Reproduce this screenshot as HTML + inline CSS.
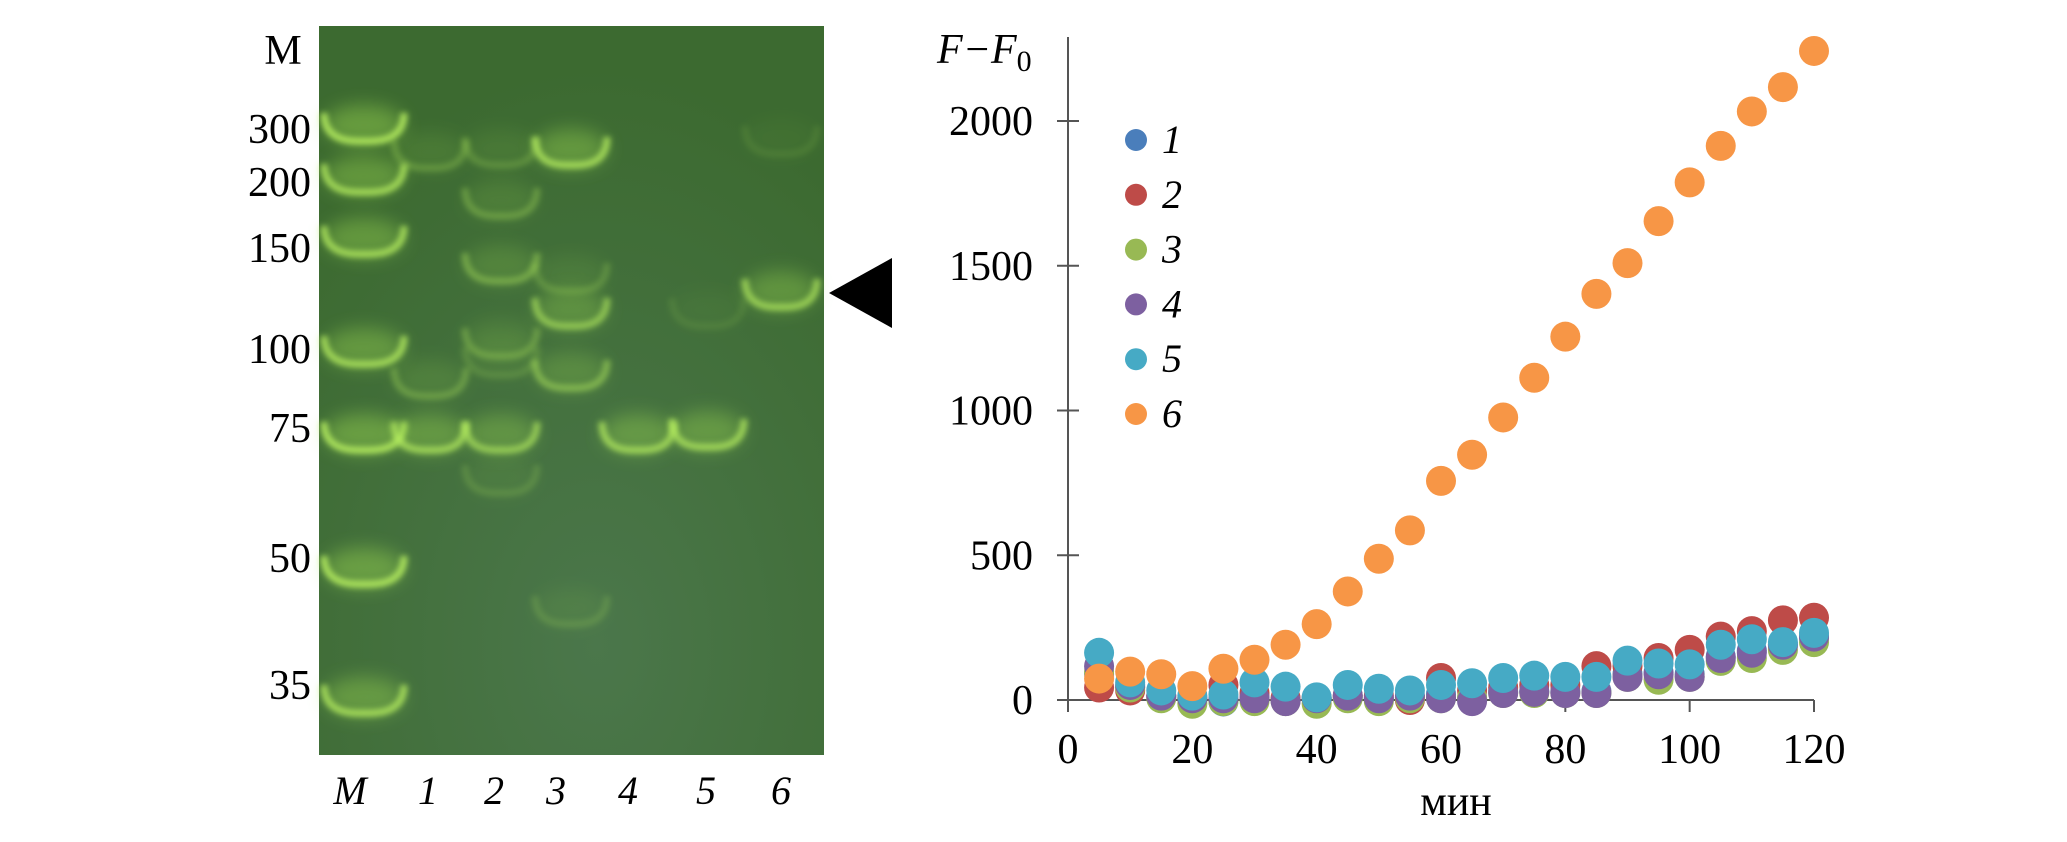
<!DOCTYPE html>
<html><head><meta charset="utf-8"><style>
html,body{margin:0;padding:0;background:#fff;}
svg{display:block;font-family:"Liberation Serif",serif;}
</style></head><body>
<svg id="fig" width="2067" height="842" viewBox="0 0 2067 842" xmlns="http://www.w3.org/2000/svg">
<defs>
<filter id="blur3" x="-50%" y="-50%" width="200%" height="200%"><feGaussianBlur stdDeviation="3"/></filter>
<filter id="blur8" x="-50%" y="-50%" width="200%" height="200%"><feGaussianBlur stdDeviation="9"/></filter>
<radialGradient id="gelbg" cx="0.55" cy="0.85" r="0.8"><stop offset="0" stop-color="#4b774b"/><stop offset="1" stop-color="#3c6a30"/></radialGradient>
</defs>
<g id="gel">
<rect x="319" y="26" width="505" height="729" fill="url(#gelbg)"/>
<g id="bands"></g>
</g>
<g font-size="42" fill="#000">
<text x="283" y="64" text-anchor="middle">M</text>
<text x="311" y="143" text-anchor="end">300</text>
<text x="311" y="196" text-anchor="end">200</text>
<text x="311" y="262" text-anchor="end">150</text>
<text x="311" y="363" text-anchor="end">100</text>
<text x="311" y="442" text-anchor="end">75</text>
<text x="311" y="572" text-anchor="end">50</text>
<text x="311" y="699" text-anchor="end">35</text>
</g>
<g font-size="40" font-style="italic" text-anchor="middle">
<text x="350" y="804">M</text><text x="428" y="804">1</text><text x="494" y="804">2</text><text x="556" y="804">3</text><text x="628" y="804">4</text><text x="706" y="804">5</text><text x="781" y="804">6</text>
</g>
<polygon points="829,293 892,258 892,328" fill="#000"/>
<g id="chart"></g>
</svg>
<script>
const times=[5,10,15,20,25,30,35,40,45,50,55,60,65,70,75,80,85,90,95,100,105,110,115,120];
const s1=[90,45,10,0,-5,10,0,5,10,5,10,20,10,30,30,30,30,90,95,90,150,170,190,215];
const s2=[43,33,15,6,52,24,6,6,15,15,0,76,33,43,52,52,117,117,145,173,219,238,275,284];
const s3=[98,43,6,-13,-4,-4,-4,-13,6,-4,6,6,6,24,24,24,24,80,70,80,135,145,173,200];
const s4=[117,52,15,6,6,6,-4,6,15,6,15,6,-4,24,28,24,24,80,89,80,145,163,191,219];
const s5=[163,61,33,15,19,61,46,9,52,39,33,52,58,76,84,80,80,136,126,123,191,210,200,232];
const s6=[74,98,89,48,108,139,191,262,375,488,586,757,847,976,1113,1255,1403,1509,1654,1788,1914,2033,2117,2242];
const seriesNames=["1","2","3","4","5","6"];
const yTicks=[0,500,1000,1500,2000];
const xTicks=[0,20,40,60,80,100,120];
const colors=["#4a7ebb","#be4b48","#98b954","#7d60a0","#46aac5","#f79646"];
const NS="http://www.w3.org/2000/svg";
const X=v=>1068+(v/120)*(1814-1068);
const Y=v=>700-(v/2000)*(700-121);
function mk(t,a,p){const e=document.createElementNS(NS,t);for(const k in a)e.setAttribute(k,a[k]);p.appendChild(e);return e;}
const chart=document.getElementById('chart');
const yax=mk('line',{x1:1068,y1:37,x2:1068,y2:700,stroke:'#555','stroke-width':2},chart);


const xax=mk('line',{x1:1068,y1:700,x2:1814,y2:700,stroke:'#555','stroke-width':2},chart);


yTicks.forEach(v=>{
 mk('line',{x1:1057,x2:1079,y1:Y(v),y2:Y(v),stroke:'#555','stroke-width':2},chart);
 const t=mk('text',{x:1033,y:Y(v)+14,'text-anchor':'end','font-size':42},chart);t.textContent=v;
 
 
});
xTicks.forEach(v=>{
 mk('line',{x1:X(v),x2:X(v),y1:700,y2:712,stroke:'#555','stroke-width':2},chart);
 const t=mk('text',{x:X(v),y:763,'text-anchor':'middle','font-size':42},chart);t.textContent=v;
 
 
});
const xt=mk('text',{x:1456,y:815,'text-anchor':'middle','font-size':42},chart);xt.textContent='мин';


const yt=mk('text',{x:937,y:63,'font-size':42,'font-style':'italic'},chart);
yt.innerHTML='F−F<tspan font-style="normal" font-size="30" dy="8">0</tspan>';


[s1,s2,s3,s4,s5,s6].forEach((s,i)=>{
 const g=mk('g',{},chart);
 
 
 s.forEach((v,j)=>{const c=mk('circle',{cx:X(times[j]),cy:Y(v),r:15,fill:colors[i]},g);
  
  });
 const ly=140+i*54.8;
 const lm=mk('circle',{cx:1136,cy:ly,r:11,fill:colors[i]},chart);
 
 
 const lt=mk('text',{x:1162,y:ly+13,'font-size':40,'font-style':'italic'},chart);lt.textContent=seriesNames[i];
 
 
});
// gel bands: lane centre x, band y, intensity
const lanesX=[364,430,501,571,638,708,781];
const bandLane=[0,0,0,0,0,0,0,1,1,1,2,2,2,2,2,2,2,3,3,3,3,3,4,5,5,6,6];
const bandY=[137,188,250,360,446,580,709,164,392,446,161,212,277,352,371,446,489,161,287,322,384,620,446,443,322,303,150];
const bandI=[1,.9,.9,.9,1,1,.9,.3,.35,.85,.25,.35,.45,.35,.2,.75,.2,.9,.25,.7,.55,.2,.85,.85,.12,.8,.12];
const bands=document.getElementById('bands');
bandY.forEach((y,i)=>{
 const x=lanesX[bandLane[i]],w=bandLane[i]===0?40:36,a=bandI[i];
 const glow=mk('ellipse',{cx:x,cy:y-12,rx:w,ry:20,fill:'#9ad850',opacity:a*0.45,filter:'url(#blur8)'},bands);
 
 
 const p=mk('path',{d:`M${x-w},${y-24} Q${x-w},${y+6} ${x},${y+4} Q${x+w},${y+6} ${x+w},${y-24}`,fill:'none',stroke:'#b8f060','stroke-width':7,opacity:a*0.85,filter:'url(#blur3)'},bands);
 
 
});
</script>
</body></html>
